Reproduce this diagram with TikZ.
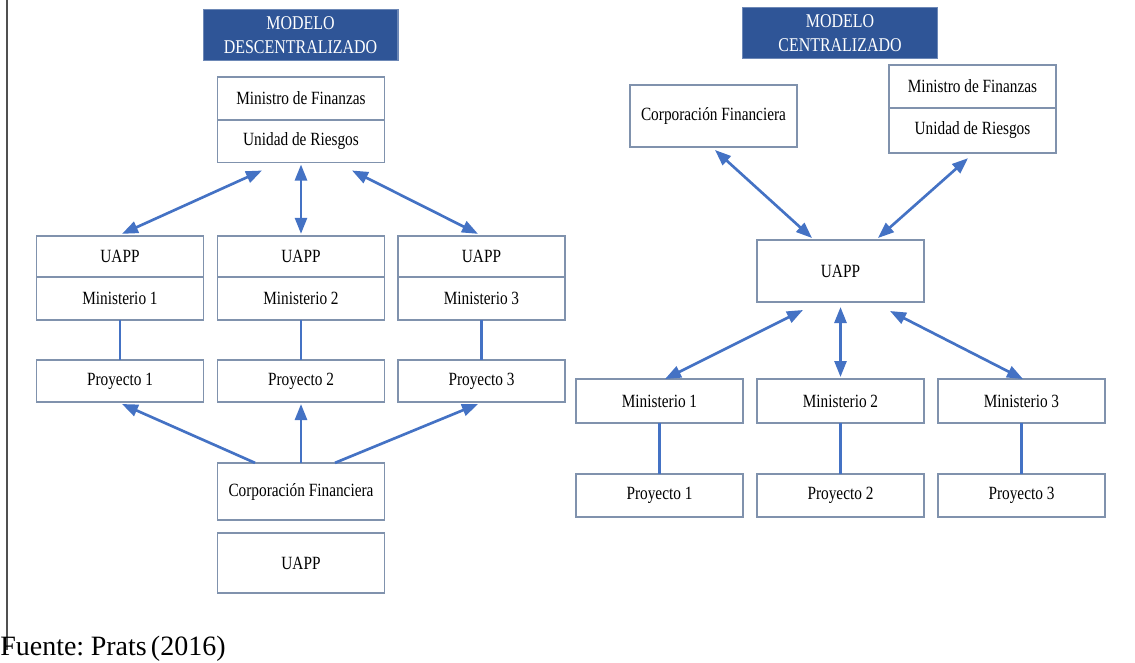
\documentclass[tikz,border=0pt]{standalone}
\usepackage{fontspec}
\setmainfont{Liberation Serif}[FakeStretch=0.82]
\newfontfamily\notefont{Liberation Serif}[WordSpace=0.6]
\definecolor{navy} {HTML}{2F5597}
\definecolor{frame}{HTML}{8092AD}
\definecolor{link} {HTML}{4472C4}
\definecolor{rule} {HTML}{505050}
\usetikzlibrary{positioning,calc,arrows.meta}
\tikzset{
  box/.style={draw=frame,line width=1.2pt,fill=white,minimum width=125pt,
              inner sep=0pt,outer sep=0pt,align=center,text=black,
              font=\fontsize{14}{17}\selectfont},
  titlebox/.style={draw=navy!70!white,line width=1pt,fill=navy,text=white,
                   minimum width=146pt,minimum height=38.5pt,inner sep=0pt,
                   align=center,font=\fontsize{14.6}{18.5}\selectfont},
  flow/.style={{Triangle[length=12pt,width=9pt]}-{Triangle[length=12pt,width=9pt]},
               draw=link,line width=2pt},
  push/.style={-{Triangle[length=12pt,width=9pt]},draw=link,line width=2pt},
  tie/.style={draw=link,line width=2pt},
  note/.style={anchor=base west,inner sep=0pt,
               font=\notefont\fontsize{21}{24}\selectfont}
}

\begin{document}
\begin{tikzpicture}[x=0.75pt,y=-0.75pt]
  \useasboundingbox (0,0) rectangle (1135,662);
  \draw[rule,line width=1pt] (7,0) -- (7,650);

  % modelo descentralizado
  \node[titlebox] (tD) at (300.5,35) {MODELO\\DESCENTRALIZADO};
  \node[box,minimum height=32pt] (finD) at (301,98.5) {Ministro de Finanzas};
  \node[box,minimum height=32pt,below=0pt of finD] (riesD) {Unidad de Riesgos};
  \foreach \i/\x in {1/120,2/301,3/481.5}{
    \node[box,minimum height=31pt] (uapp\i) at (\x,256.5) {UAPP};
    \node[box,minimum height=32pt,below=0pt of uapp\i] (min\i) {Ministerio \i};
    \node[box,minimum height=31.5pt] (proy\i) at (\x,381) {Proyecto \i};
    \draw[tie] (min\i) -- (proy\i);
  }
  \node[box,minimum height=43pt] (corpD) at (301,491.5) {Corporación Financiera};
  \node[box,minimum height=45pt] (uappD) at (301,563) {UAPP};

  \draw[flow] ($(riesD.south)+(-39,8)$) -- ($(uapp1.north)+(2,-2)$);
  \draw[flow] ($(riesD.south)+(0,2)$)   -- ($(uapp2.north)+(0,-2)$);
  \draw[flow] ($(riesD.south)+(51,8)$)  -- ($(uapp3.north)+(-3.5,-2)$);
  \draw[push] ($(corpD.north)+(-46,0)$) -- ($(proy1.south)+(2,2)$);
  \draw[push] (corpD.north)             -- ($(proy2.south)+(0,2)$);
  \draw[push] ($(corpD.north)+(34,0)$)  -- ($(proy3.south)+(-3.5,2)$);

  % modelo centralizado
  \node[titlebox] (tC) at (840,33) {MODELO\\CENTRALIZADO};
  \node[box,minimum height=46.5pt] (corpC) at (713.5,116) {Corporación Financiera};
  \node[box,minimum height=32pt] (finC) at (972.5,86.5) {Ministro de Finanzas};
  \node[box,minimum height=34pt,below=0pt of finC] (riesC) {Unidad de Riesgos};
  \node[box,minimum height=46.5pt] (uappC) at (840.5,271) {UAPP};
  \foreach \i/\x in {1/659.5,2/840.5,3/1021.5}{
    \node[box,minimum height=33pt] (minC\i) at (\x,401) {Ministerio \i};
    \node[box,minimum height=32pt] (proyC\i) at (\x,495.5) {Proyecto \i};
    \draw[tie] (minC\i) -- (proyC\i);
  }

  \draw[flow] ($(corpC.south)+(1.5,3)$)  -- ($(uappC.north)+(-28.5,-2)$);
  \draw[flow] ($(riesC.south)+(-4.5,5)$) -- ($(uappC.north)+(37.5,-2)$);
  \draw[flow] ($(uappC.south)+(-37.5,8)$) -- ($(minC1.north)+(5.5,0)$);
  \draw[flow] ($(uappC.south)+(0,5)$)     -- ($(minC2.north)+(0,-2)$);
  \draw[flow] ($(uappC.south)+(49.5,9)$)  -- ($(minC3.north)+(1.5,0)$);

  \node[note] (src) at (0,655) {Fuente: Prats (2016)};
\end{tikzpicture}
\end{document}
